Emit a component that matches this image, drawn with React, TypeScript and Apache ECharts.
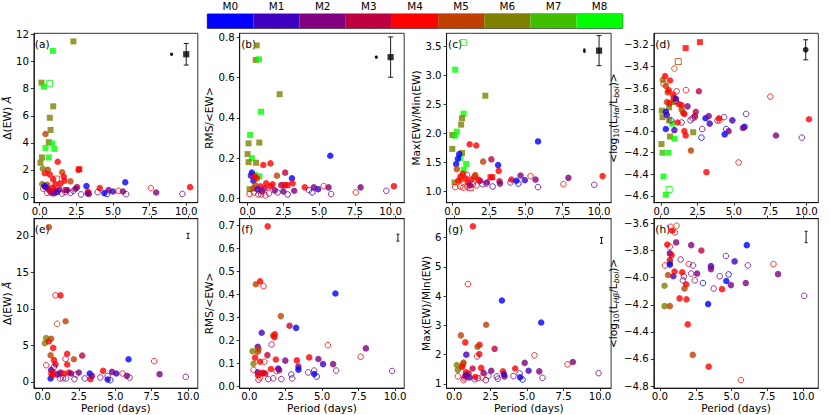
import React, { useEffect, useRef } from 'react';
import * as echarts from 'echarts';

// Spectral types and the colours of the colour bar
const SPECTRAL_TYPES = ['M0', 'M1', 'M2', 'M3', 'M4', 'M5', 'M6', 'M7', 'M8'];
const SPT_COLORS = ['#0000ff', '#4000bf', '#800080', '#bf0040', '#ff0000', '#bf4000', '#808000', '#40bf00', '#00ff00'];

// Tick values
const X_TICKS = [0, 2.5, 5, 7.5, 10];
const Y_TICKS_A = [0, 2, 4, 6, 8, 10, 12];
const Y_TICKS_B = [0, 0.2, 0.4, 0.6, 0.8];
const Y_TICKS_C = [1, 1.5, 2, 2.5, 3, 3.5];
const Y_TICKS_D = [-4.6, -4.4, -4.2, -4, -3.8, -3.6, -3.4, -3.2];
const Y_TICKS_E = [0, 5, 10, 15, 20];
const Y_TICKS_F = [0, 0.1, 0.2, 0.3, 0.4, 0.5, 0.6, 0.7];
const Y_TICKS_G = [1, 2, 3, 4, 5, 6];
const Y_TICKS_H = [-4.8, -4.6, -4.4, -4.2, -4, -3.8, -3.6];

// Points: [period, value, spectral type index, kind]  kind: 0 filled circle, 1 open circle, 2 filled square, 3 open square
const PTS_A = [
  [2.3, 11.5, 6, 2], [0.9, 10.8, 8, 2], [0.12, 8.45, 6, 2], [0.67, 8.4, 8, 3], [0.28, 8.15, 8, 2], [0.92, 6.7, 6, 2],
  [0.69, 5.85, 6, 2], [0.74, 4.95, 6, 2], [0.62, 4.05, 6, 2], [0.85, 3.95, 8, 2], [0.4, 3.62, 8, 2], [1.0, 3.55, 8, 2],
  [0.62, 2.92, 8, 2], [0.15, 2.92, 6, 2], [0.05, 2.52, 6, 2], [1.14, 1.32, 5, 3], [1.8, 0.5, 4, 2], [2.7, 2.05, 4, 2],
  [0.39, 4.65, 5, 0], [0.55, 2.0, 5, 0], [1.23, 2.6, 4, 0], [0.35, 1.75, 4, 0], [0.69, 1.65, 4, 0], [1.53, 1.82, 5, 0],
  [1.64, 1.5, 4, 0], [1.69, 1.2, 4, 0], [0.92, 1.3, 4, 0], [1.07, 0.92, 4, 0], [1.41, 0.98, 4, 0], [2.1, 1.15, 5, 0],
  [2.65, 2.0, 4, 0], [0.21, 2.08, 6, 0], [0.17, 0.95, 6, 0], [0.51, 0.9, 5, 0], [2.55, 0.72, 3, 0], [3.19, 0.8, 0, 0],
  [4.1, 0.65, 4, 0], [4.41, 0.28, 0, 0], [4.6, 0.22, 0, 1], [4.7, 0.5, 2, 0], [5.0, 0.4, 1, 0], [5.84, 1.08, 0, 0],
  [5.68, 0.4, 2, 0], [5.9, 0.2, 2, 1], [5.38, 0.45, 4, 1], [7.58, 0.65, 4, 1], [7.95, 0.32, 2, 0], [9.74, 0.22, 2, 1],
  [10.26, 0.72, 4, 0], [0.24, 0.6, 4, 1], [0.33, 0.8, 0, 0], [0.42, 0.7, 1, 0], [0.6, 0.55, 2, 0], [0.74, 0.37, 2, 0],
  [0.78, 0.3, 4, 1], [0.96, 0.25, 2, 0], [1.0, 0.5, 3, 0], [1.23, 0.42, 4, 1], [1.35, 0.55, 2, 0], [1.53, 0.25, 2, 1],
  [1.87, 0.49, 2, 0], [2.1, 0.3, 2, 1], [2.44, 0.6, 2, 0], [2.82, 0.18, 1, 1], [3.27, 0.28, 1, 0], [3.3, 0.38, 4, 0],
  [3.95, 0.35, 2, 1], [0.85, 0.65, 4, 0], [1.15, 0.35, 1, 0], [1.75, 0.35, 2, 1], [2.3, 0.45, 2, 1], [0.5, 0.3, 4, 1],
  [3.35, 0.22, 2, 0],
];
const PTS_B = [
  [0.64, 0.759, 6, 2], [0.57, 0.687, 6, 2], [0.8, 0.69, 8, 2], [2.24, 0.517, 6, 2], [0.94, 0.43, 8, 2], [0.18, 0.315, 8, 2],
  [0.07, 0.273, 6, 2], [0.82, 0.277, 6, 2], [0.0, 0.22, 6, 2], [0.3, 0.2, 8, 2], [0.07, 0.18, 6, 2], [0.6, 0.177, 6, 2],
  [0.48, 0.116, 8, 2], [0.82, 0.11, 8, 2], [0.14, 0.046, 6, 2], [2.6, 0.066, 4, 2], [2.78, 0.066, 4, 2],
  [5.78, 0.212, 0, 0], [0.3, 0.129, 0, 0], [0.23, 0.113, 1, 0], [1.1, 0.166, 4, 0], [1.6, 0.174, 4, 0], [2.05, 0.113, 5, 0],
  [2.63, 0.128, 3, 0], [3.1, 0.1, 0, 0], [3.15, 0.075, 4, 0], [4.0, 0.055, 4, 0], [0.41, 0.088, 0, 0], [0.5, 0.11, 4, 0],
  [0.65, 0.1, 4, 0], [0.9, 0.06, 4, 0], [1.3, 0.075, 4, 0], [1.6, 0.06, 4, 0], [1.75, 0.07, 4, 0], [0.55, 0.065, 5, 0],
  [0.4, 0.05, 5, 0], [1.2, 0.05, 3, 0], [2.35, 0.066, 3, 0], [3.26, 0.038, 2, 0], [4.63, 0.055, 2, 0], [4.93, 0.046, 1, 0],
  [5.66, 0.055, 2, 0], [7.9, 0.055, 2, 0], [10.23, 0.061, 4, 0], [5.32, 0.061, 4, 1], [7.56, 0.03, 4, 1], [9.7, 0.038, 2, 1],
  [5.84, 0.022, 2, 1], [4.52, 0.03, 0, 1], [4.3, 0.041, 2, 1], [2.8, 0.02, 1, 1], [0.14, 0.022, 4, 1], [0.45, 0.03, 4, 1],
  [0.75, 0.02, 4, 1], [1.0, 0.035, 2, 0], [1.5, 0.025, 2, 1], [1.9, 0.04, 2, 0], [2.1, 0.03, 2, 1], [1.25, 0.015, 4, 1],
  [0.95, 0.02, 2, 1], [2.5, 0.035, 2, 0], [0.7, 0.045, 1, 0],
];
const PTS_C = [
  [0.75, 3.57, 8, 3], [0.2, 3.1, 8, 2], [2.25, 2.65, 6, 2], [0.77, 2.34, 8, 2], [0.66, 2.26, 6, 2], [0.6, 2.15, 6, 2],
  [0.31, 2.03, 8, 2], [0.0, 1.97, 6, 2], [0.2, 1.96, 8, 2], [0.0, 1.73, 6, 2], [0.66, 1.66, 6, 2], [0.95, 1.47, 8, 2],
  [0.54, 1.57, 8, 2], [0.77, 1.37, 8, 2], [0.15, 1.15, 6, 2], [2.6, 1.24, 4, 2], [2.72, 1.24, 4, 2], [1.22, 1.06, 4, 3],
  [5.84, 1.86, 0, 0], [1.18, 1.81, 4, 0], [1.63, 1.79, 4, 0], [2.66, 1.55, 3, 0], [3.12, 1.45, 0, 0], [3.16, 1.35, 4, 0],
  [2.1, 1.51, 5, 0], [0.26, 1.47, 0, 0], [0.38, 1.56, 0, 0], [0.47, 1.64, 0, 0], [0.31, 1.38, 5, 0], [4.65, 1.27, 2, 0],
  [4.94, 1.19, 1, 0], [5.67, 1.2, 2, 0], [7.91, 1.23, 2, 0], [10.24, 1.26, 4, 0], [4.03, 1.2, 4, 0], [4.37, 1.18, 0, 0],
  [4.5, 1.13, 0, 1], [5.33, 1.26, 4, 1], [5.84, 1.07, 2, 1], [7.57, 1.12, 4, 1], [9.67, 1.11, 2, 1], [3.21, 1.17, 3, 0],
  [3.25, 1.13, 2, 0], [2.75, 1.08, 1, 1], [3.96, 1.15, 2, 1], [2.36, 1.15, 2, 0], [1.9, 1.18, 2, 0], [0.55, 1.25, 4, 0],
  [0.72, 1.3, 4, 0], [0.9, 1.22, 4, 0], [1.05, 1.15, 4, 0], [1.57, 1.28, 5, 0], [1.5, 1.25, 5, 0], [0.6, 1.2, 5, 0],
  [0.4, 1.18, 4, 0], [1.3, 1.2, 4, 0], [1.75, 1.2, 4, 0], [0.2, 1.07, 4, 1], [0.55, 1.08, 4, 1], [0.75, 1.06, 4, 1],
  [1.0, 1.08, 4, 1], [1.4, 1.12, 4, 1], [1.65, 1.1, 4, 1], [2.05, 1.12, 2, 1], [1.2, 1.1, 2, 0], [1.0, 1.28, 4, 1],
  [2.3, 1.13, 2, 1],
];
const PTS_D = [
  [1.67, -3.23, 4, 2], [2.65, -3.175, 4, 2], [1.16, -3.355, 5, 3], [0.02, -3.81, 6, 2], [0.07, -3.87, 6, 2], [0.82, -3.73, 6, 2],
  [0.53, -3.78, 6, 2], [0.53, -3.9, 6, 2], [0.75, -3.93, 8, 2], [0.0, -4.12, 6, 2], [0.59, -4.05, 6, 2], [0.89, -4.07, 8, 2],
  [2.19, -4.01, 6, 2], [0.07, -4.2, 7, 2], [0.48, -4.2, 8, 2], [0.14, -4.42, 8, 2], [0.53, -4.54, 8, 3], [0.3, -4.59, 8, 2],
  [0.09, -3.525, 6, 0], [0.89, -3.42, 5, 1], [0.25, -3.49, 4, 0], [0.14, -3.56, 4, 1], [0.59, -3.53, 4, 0], [0.3, -3.58, 5, 0],
  [1.05, -3.63, 4, 1], [0.8, -3.66, 4, 0], [0.85, -3.69, 4, 0], [0.43, -3.64, 5, 0], [2.58, -3.63, 3, 0], [1.69, -3.62, 4, 1],
  [7.51, -3.68, 4, 1], [0.37, -3.73, 5, 0], [0.89, -3.7, 5, 0], [1.21, -3.75, 4, 0], [1.39, -3.76, 4, 0], [1.39, -3.8, 5, 0],
  [1.5, -3.83, 5, 0], [1.58, -3.84, 4, 0], [1.8, -3.77, 2, 0], [2.3, -3.87, 2, 1], [0.3, -3.82, 0, 0], [0.37, -3.85, 1, 0],
  [2.37, -3.82, 3, 0], [2.3, -3.86, 3, 0], [2.15, -3.88, 2, 1], [2.0, -3.9, 2, 1], [1.39, -3.92, 2, 1], [3.04, -3.88, 0, 0],
  [3.33, -3.93, 1, 0], [3.26, -3.86, 2, 0], [3.86, -3.9, 2, 1], [4.32, -3.87, 2, 1], [5.84, -3.84, 2, 1], [3.97, -3.88, 4, 0],
  [4.0, -3.9, 4, 1], [4.89, -3.9, 1, 0], [5.73, -3.96, 0, 0], [5.62, -3.97, 2, 0], [4.36, -4.03, 0, 0], [4.47, -3.98, 0, 1],
  [4.63, -4.0, 2, 0], [7.9, -4.04, 2, 0], [9.68, -4.06, 2, 1], [10.18, -3.89, 4, 0], [0.3, -3.98, 0, 0], [0.89, -3.99, 1, 0],
  [1.12, -3.92, 4, 0], [1.58, -4.0, 4, 0], [1.67, -4.04, 4, 0], [2.03, -4.18, 5, 0], [5.32, -4.29, 4, 1], [3.1, -4.38, 4, 0],
  [2.81, -3.98, 2, 1], [2.76, -4.06, 0, 1], [0.66, -3.9, 1, 1], [0.55, -3.74, 4, 0], [1.0, -3.7, 1, 0], [1.0, -3.72, 2, 1],
  [0.5, -3.62, 4, 0],
];
const PTS_E = [
  [0.43, 21.2, 5, 0], [0.89, 11.85, 4, 1], [1.23, 11.85, 4, 0], [1.58, 8.3, 5, 0], [1.0, 7.95, 5, 1], [0.25, 6.0, 6, 0],
  [0.16, 5.3, 6, 0], [0.43, 5.55, 4, 0], [0.59, 5.9, 5, 0], [0.73, 4.65, 4, 0], [0.55, 3.65, 5, 0], [0.78, 2.97, 4, 0],
  [0.89, 2.4, 4, 0], [0.25, 2.28, 4, 1], [1.69, 3.85, 4, 0], [1.69, 2.37, 4, 0], [2.15, 3.1, 5, 0], [2.72, 3.6, 3, 0],
  [1.58, 3.15, 3, 1], [5.91, 3.1, 0, 0], [7.67, 2.83, 4, 1], [0.59, 1.6, 1, 0], [0.78, 2.05, 1, 1], [0.55, 0.46, 0, 0],
  [1.23, 1.28, 2, 0], [1.05, 1.0, 1, 0], [1.45, 1.14, 4, 0], [1.8, 1.28, 4, 0], [1.96, 1.14, 2, 0], [1.62, 0.46, 2, 1],
  [2.19, 0.37, 2, 1], [1.19, 0.46, 2, 1], [2.49, 1.28, 2, 0], [3.24, 1.14, 0, 0], [3.29, 0.37, 4, 0], [3.4, 0.82, 2, 0],
  [2.9, 0.46, 1, 1], [3.97, 0.59, 2, 1], [4.16, 1.5, 4, 0], [4.47, 0.32, 0, 0], [4.66, 0.23, 0, 1], [4.47, 0.78, 2, 1],
  [4.77, 1.37, 2, 0], [5.07, 1.14, 1, 0], [5.5, 1.14, 4, 1], [5.8, 0.82, 2, 0], [5.98, 0.59, 2, 1], [8.04, 1.05, 2, 0],
  [9.84, 0.68, 2, 1], [0.66, 0.91, 3, 0], [0.7, 1.3, 4, 0], [0.9, 1.1, 4, 1], [2.3, 1.0, 2, 1], [1.4, 0.5, 2, 1],
  [0.6, 1.1, 4, 1],
];
const PTS_F = [
  [1.26, 0.695, 4, 0], [0.45, 0.444, 5, 0], [0.74, 0.457, 4, 0], [0.97, 0.436, 4, 1], [5.91, 0.404, 0, 0], [2.16, 0.306, 5, 0],
  [2.76, 0.264, 3, 0], [3.21, 0.255, 0, 0], [0.85, 0.234, 1, 0], [1.75, 0.227, 4, 0], [1.64, 0.222, 5, 0], [1.72, 0.215, 4, 0],
  [1.53, 0.183, 3, 1], [5.39, 0.18, 4, 1], [8.0, 0.166, 2, 0], [0.58, 0.173, 1, 0], [0.63, 0.163, 5, 0], [0.58, 0.152, 5, 0],
  [0.22, 0.154, 6, 0], [0.29, 0.1, 6, 0], [1.24, 0.137, 3, 0], [0.4, 0.126, 4, 0], [0.74, 0.108, 4, 0], [1.03, 0.108, 4, 1],
  [1.82, 0.118, 4, 0], [2.47, 0.113, 2, 0], [3.26, 0.114, 4, 0], [4.11, 0.127, 4, 0], [4.74, 0.12, 2, 0], [5.06, 0.098, 1, 0],
  [5.75, 0.098, 2, 0], [7.64, 0.13, 4, 1], [1.98, 0.079, 1, 0], [3.37, 0.087, 2, 0], [3.37, 0.074, 0, 0], [4.04, 0.062, 2, 1],
  [4.45, 0.07, 2, 1], [4.45, 0.055, 0, 0], [4.63, 0.044, 0, 1], [5.96, 0.07, 2, 1], [9.8, 0.068, 2, 1], [2.88, 0.053, 1, 1],
  [2.94, 0.036, 2, 1], [2.2, 0.033, 2, 1], [1.64, 0.036, 2, 1], [1.3, 0.033, 2, 1], [0.29, 0.073, 4, 1], [1.87, 0.068, 4, 1],
  [0.58, 0.062, 1, 0], [0.85, 0.058, 4, 0], [0.95, 0.06, 4, 0], [1.1, 0.057, 3, 0], [0.63, 0.03, 3, 1], [0.74, 0.04, 4, 1],
  [1.48, 0.077, 4, 0], [2.05, 0.072, 2, 0], [0.6, 0.05, 4, 0],
];
const PTS_G = [
  [1.29, 6.38, 4, 0], [0.95, 4.41, 4, 1], [3.28, 3.85, 0, 0], [5.97, 3.1, 0, 0], [2.2, 3.02, 5, 0], [0.47, 2.66, 5, 0],
  [0.77, 2.42, 4, 0], [1.75, 2.34, 4, 0], [1.61, 2.27, 5, 0], [2.78, 2.2, 3, 0], [1.73, 2.02, 4, 0], [0.84, 2.0, 1, 0],
  [1.57, 1.94, 3, 1], [5.51, 1.98, 4, 1], [4.84, 1.72, 2, 0], [8.14, 1.75, 2, 0], [0.19, 1.65, 6, 0], [0.26, 1.48, 6, 0],
  [0.65, 1.73, 5, 0], [0.6, 1.66, 5, 0], [0.55, 1.58, 4, 0], [7.78, 1.67, 4, 1], [0.81, 1.4, 4, 0], [1.0, 1.36, 4, 0],
  [1.86, 1.55, 4, 0], [1.27, 1.53, 3, 0], [2.55, 1.45, 2, 0], [3.35, 1.43, 4, 0], [4.19, 1.53, 4, 0], [5.11, 1.45, 1, 0],
  [5.84, 1.43, 2, 0], [9.9, 1.37, 2, 1], [2.02, 1.38, 2, 0], [4.53, 1.23, 0, 0], [4.69, 1.15, 0, 1], [4.49, 1.36, 2, 1],
  [3.46, 1.26, 2, 0], [3.42, 1.33, 1, 0], [2.93, 1.26, 1, 1], [3.0, 1.18, 2, 1], [4.07, 1.27, 2, 1], [6.06, 1.21, 2, 1],
  [2.18, 1.13, 2, 1], [2.36, 1.28, 2, 1], [1.41, 1.16, 2, 1], [1.65, 1.2, 2, 1], [0.26, 1.26, 4, 1], [1.9, 1.22, 4, 1],
  [1.45, 1.24, 4, 0], [0.75, 1.26, 2, 0], [0.85, 1.3, 1, 0], [0.65, 1.13, 3, 1], [1.05, 1.22, 1, 0], [0.7, 1.2, 4, 1],
];
const PTS_H = [
  [0.74, -3.625, 4, 1], [1.16, -3.617, 5, 1], [1.04, -3.666, 4, 1], [0.86, -3.654, 4, 0], [0.51, -3.755, 4, 0], [0.69, -3.772, 4, 1],
  [1.13, -3.74, 2, 0], [2.18, -3.76, 2, 0], [2.89, -3.8, 3, 0], [6.06, -3.76, 0, 0], [0.69, -3.82, 1, 0], [0.81, -3.834, 4, 0],
  [1.44, -3.866, 2, 1], [4.6, -3.84, 2, 1], [7.92, -3.9, 4, 1], [6.13, -3.91, 2, 1], [0.35, -3.91, 4, 1], [2.01, -3.9, 4, 1],
  [2.31, -3.91, 2, 1], [0.69, -3.87, 3, 0], [0.69, -3.89, 5, 0], [0.69, -3.905, 0, 0], [3.56, -3.915, 1, 0], [5.21, -3.88, 1, 0],
  [3.56, -3.937, 2, 0], [0.93, -3.99, 1, 0], [1.02, -3.955, 4, 0], [2.18, -3.97, 2, 1], [2.59, -3.97, 2, 0], [0.56, -3.98, 5, 0],
  [4.17, -3.99, 2, 1], [4.79, -3.976, 0, 1], [4.63, -4.025, 0, 0], [1.67, -3.99, 2, 1], [2.43, -4.02, 2, 1], [3.0, -4.04, 0, 1],
  [4.95, -4.055, 2, 0], [5.99, -4.04, 2, 0], [8.24, -3.974, 2, 0], [3.75, -4.08, 2, 1], [4.33, -4.085, 4, 0], [1.55, -3.96, 4, 0],
  [1.83, -4.05, 4, 0], [1.71, -4.08, 5, 0], [1.6, -4.02, 2, 1], [0.32, -4.06, 6, 0], [0.32, -4.21, 6, 0], [0.69, -4.21, 5, 0],
  [1.37, -4.153, 4, 0], [1.85, -4.16, 4, 0], [3.36, -4.195, 0, 0], [10.07, -4.134, 2, 1], [1.94, -4.345, 4, 0], [2.29, -4.57, 5, 0],
  [3.4, -4.657, 4, 0], [5.65, -4.756, 4, 1],
];

// Reference error bars: [period, value, half error, marker]  marker: 0 none, 1 small dot, 2 dot, 3 square
const REF_A = [[9, 10.55, 0.06, 1], [10, 10.55, 0.8, 3]];
const REF_B = [[9, 0.701, 0.004, 1], [10, 0.701, 0.1, 3]];
const REF_C = [[9, 3.43, 0.03, 1], [10, 3.43, 0.26, 3]];
const REF_D = [[9.95, -3.246, 0.093, 2]];
const REF_E = [[10, 20, 0.35, 0]];
const REF_F = [[10.2, 0.646, 0.015, 0]];
const REF_G = [[10.1, 5.9, 0.1, 0]];
const REF_H = [[10.2, -3.7, 0.042, 0]];

const FONT = "'DejaVu Sans', 'Noto Sans', sans-serif";
const TICK_FS = 10.2;
const NAME_FS = 10.6;
const MINUS = (v: number, d: number) => v.toFixed(d).replace('-', '\u2212');

const SUB = { fontSize: 7.6, fontFamily: FONT, color: '#000', verticalAlign: 'bottom', lineHeight: 14 };
const SUBI = { ...SUB, fontStyle: 'italic' };
const RICH = {
  sub: SUB,
  subi: SUBI,
  i: { fontSize: NAME_FS, fontFamily: FONT, color: '#000', fontStyle: 'italic', lineHeight: 14 },
  n: { fontSize: NAME_FS, fontFamily: FONT, color: '#000', lineHeight: 14 },
};

const LEFTS = [33.3, 239.7, 446.6, 653.8];
const TOPS = [33.3, 218.7];
const PW = 164.5;
const PH = 169.4;

const PANELS = [
  { pts: PTS_A, ref: REF_A, yt: Y_TICKS_A, yMin: -0.43, yMax: 12.1, xMin: -0.4, xMax: 10.79, fmt: (v: number) => String(v), name: '{n|\u0394(EW) }{i|\u00c5}', gap: 12, label: '(a)' },
  { pts: PTS_B, ref: REF_B, yt: Y_TICKS_B, yMin: -0.021, yMax: 0.819, xMin: -0.55, xMax: 10.95, fmt: (v: number) => v.toFixed(1), name: '{n|RMS/<EW>}', gap: 17, label: '(b)' },
  { pts: PTS_C, ref: REF_C, yt: Y_TICKS_C, yMin: 0.8, yMax: 3.73, xMin: -0.39, xMax: 10.82, fmt: (v: number) => v.toFixed(1), name: '{n|Max(EW)/Min(EW)}', gap: 15.5, label: '(c)' },
  { pts: PTS_D, ref: REF_D, yt: Y_TICKS_D, yMin: -4.663, yMax: -3.093, xMin: -0.53, xMax: 10.82, fmt: (v: number) => MINUS(v, 1), name: '{n|<log}{sub|10}{n|(L}{subi|H\u03b1}{n|/L}{subi|bol}{n|)>}', gap: 28, label: '(d)' },
  { pts: PTS_E, ref: REF_E, yt: Y_TICKS_E, yMin: -0.86, yMax: 22.36, xMin: -0.6, xMax: 10.67, fmt: (v: number) => String(v), name: '{n|\u0394(EW) }{i|\u00c5}', gap: 15, label: '(e)' },
  { pts: PTS_F, ref: REF_F, yt: Y_TICKS_F, yMin: -0.006, yMax: 0.728, xMin: -0.66, xMax: 10.63, fmt: (v: number) => v.toFixed(1), name: '{n|RMS/<EW>}', gap: 22, label: '(f)' },
  { pts: PTS_G, ref: REF_G, yt: Y_TICKS_G, yMin: 0.86, yMax: 6.64, xMin: -0.51, xMax: 10.76, fmt: (v: number) => String(v), name: '{n|Max(EW)/Min(EW)}', gap: 13.5, label: '(g)' },
  { pts: PTS_H, ref: REF_H, yt: Y_TICKS_H, yMin: -4.815, yMax: -3.565, xMin: -0.43, xMax: 11.05, fmt: (v: number) => MINUS(v, 1), name: '{n|<log}{sub|10}{n|(L}{subi|H\u03b2}{n|/L}{subi|bol}{n|)>}', gap: 31, label: '(h)' },
];

function buildOption() {
  const grid: any[] = [];
  const xAxis: any[] = [];
  const yAxis: any[] = [];
  const series: any[] = [];
  const graphic: any[] = [];
  const tickStyle = { color: '#000', width: 0.8 };
  const labelStyle = { color: '#000', fontSize: TICK_FS, fontFamily: FONT };

  PANELS.forEach((p, i) => {
    const row = i < 4 ? 0 : 1;
    const col = i % 4;
    grid.push({ left: LEFTS[col], top: TOPS[row], width: PW, height: PH, show: true, borderColor: '#000', borderWidth: 0.8, backgroundColor: 'transparent', containLabel: false });
    xAxis.push({
      type: 'value', gridIndex: i, min: p.xMin, max: p.xMax, position: 'bottom',
      axisLine: { show: true, onZero: false, lineStyle: tickStyle },
      axisTick: { show: true, length: 3, lineStyle: tickStyle, customValues: X_TICKS },
      axisLabel: { show: true, margin: 3.5, ...labelStyle, customValues: X_TICKS, formatter: (v: number) => v.toFixed(1) },
      splitLine: { show: false },
      name: row === 1 ? 'Period (days)' : '', nameLocation: 'middle', nameGap: 14,
      nameTextStyle: { color: '#000', fontSize: NAME_FS, fontFamily: FONT },
    });
    yAxis.push({
      type: 'value', gridIndex: i, min: p.yMin, max: p.yMax,
      axisLine: { show: true, onZero: false, lineStyle: tickStyle },
      axisTick: { show: true, length: 3, lineStyle: tickStyle, customValues: p.yt },
      axisLabel: { show: true, margin: 5, ...labelStyle, customValues: p.yt, formatter: p.fmt },
      splitLine: { show: false },
      name: p.name, nameLocation: 'middle', nameGap: p.gap, nameRotate: 90,
      nameTextStyle: { color: '#000', fontSize: NAME_FS, fontFamily: FONT, rich: RICH },
    });
    graphic.push({
      type: 'text', left: LEFTS[col] + 1.5, top: TOPS[row] + 5,
      style: { text: p.label, fontSize: NAME_FS, fontFamily: FONT, fill: '#000' }, silent: true,
    });
    series.push({
      type: 'scatter', xAxisIndex: i, yAxisIndex: i, silent: true, animation: false,
      data: p.pts.map(([x, y, s, k]) => {
        const c = SPT_COLORS[s];
        const open = k % 2 === 1;
        const square = k >= 2;
        return {
          value: [x, y],
          symbol: square ? 'rect' : 'circle',
          symbolSize: square ? 6 : open ? 5.6 : 6.5,
          itemStyle: open
            ? { color: 'rgba(255,255,255,0)', borderColor: c, borderWidth: 1 }
            : { color: c, borderWidth: 0 },
        };
      }),
    });
    series.push({
      type: 'custom', xAxisIndex: i, yAxisIndex: i, silent: true, animation: false,
      data: p.ref.map(([x, y, e, m]) => [x, y, y - e, y + e, m]),
      encode: { x: 0, y: 1 },
      renderItem: (params: any, api: any) => {
        const x = api.value(0);
        const lo = api.value(2);
        const hi = api.value(3);
        const m = api.value(4);
        const p1 = api.coord([x, lo]);
        const p2 = api.coord([x, hi]);
        const cw = m === 3 || m === 2 ? 2.5 : m === 1 ? 1 : 1.5;
        const st = { stroke: '#000', lineWidth: 0.9 };
        return {
          type: 'group',
          children: [
            { type: 'line', shape: { x1: p1[0], y1: p1[1], x2: p2[0], y2: p2[1] }, style: st },
            { type: 'line', shape: { x1: p1[0] - cw, y1: p1[1], x2: p1[0] + cw, y2: p1[1] }, style: st },
            { type: 'line', shape: { x1: p2[0] - cw, y1: p2[1], x2: p2[0] + cw, y2: p2[1] }, style: st },
          ],
        };
      },
    });
    const marks = p.ref.filter((r) => r[3] > 0);
    if (marks.length) {
      series.push({
        type: 'scatter', xAxisIndex: i, yAxisIndex: i, silent: true, animation: false, z: 5,
        data: marks.map(([x, y, e, m]) => ({
          value: [x, y],
          symbol: m === 3 ? 'rect' : 'circle',
          symbolSize: m === 1 ? 3.2 : m === 2 ? 5.8 : 6.2,
          itemStyle: { color: '#000' },
        })),
      });
    }
  });

  // top axes of the bottom row (ticks only)
  for (let c = 0; c < 4; c++) {
    const p = PANELS[4 + c];
    xAxis.push({
      type: 'value', gridIndex: 4 + c, min: p.xMin, max: p.xMax, position: 'top',
      axisLine: { show: true, onZero: false, lineStyle: tickStyle },
      axisTick: { show: true, length: 3, lineStyle: tickStyle, customValues: X_TICKS },
      axisLabel: { show: false },
      splitLine: { show: false },
    });
  }

  // colour bar
  grid.push({ left: 207.3, top: 14, width: 415.4, height: 14.3, show: true, borderColor: '#000', borderWidth: 0.8, backgroundColor: 'transparent' });
  xAxis.push({
    type: 'category', gridIndex: 8, data: SPECTRAL_TYPES, position: 'top', boundaryGap: true,
    axisLine: { show: false },
    axisTick: { show: true, alignWithLabel: true, length: 3, lineStyle: tickStyle },
    axisLabel: { show: true, margin: 3.5, color: '#000', fontSize: 10.4, fontFamily: FONT },
    splitLine: { show: false },
  });
  yAxis.push({ type: 'value', gridIndex: 8, min: 0, max: 1, show: false });
  series.push({
    type: 'bar', xAxisIndex: 12, yAxisIndex: 8, silent: true, animation: false, barCategoryGap: '0%',
    data: SPT_COLORS.map((c) => ({ value: 1, itemStyle: { color: c } })),
  });

  return { animation: false, backgroundColor: '#fff', grid, xAxis, yAxis, series, graphic };
}

export default function App() {
  const ref = useRef<HTMLDivElement>(null);
  useEffect(() => {
    if (!ref.current) return;
    const chart = echarts.init(ref.current, undefined, { renderer: 'svg' });
    chart.setOption(buildOption() as any);
    return () => chart.dispose();
  }, []);
  return <div ref={ref} style={{ position: 'fixed', left: 0, top: 0, width: 830, height: 415, background: '#fff' }} />;
}
